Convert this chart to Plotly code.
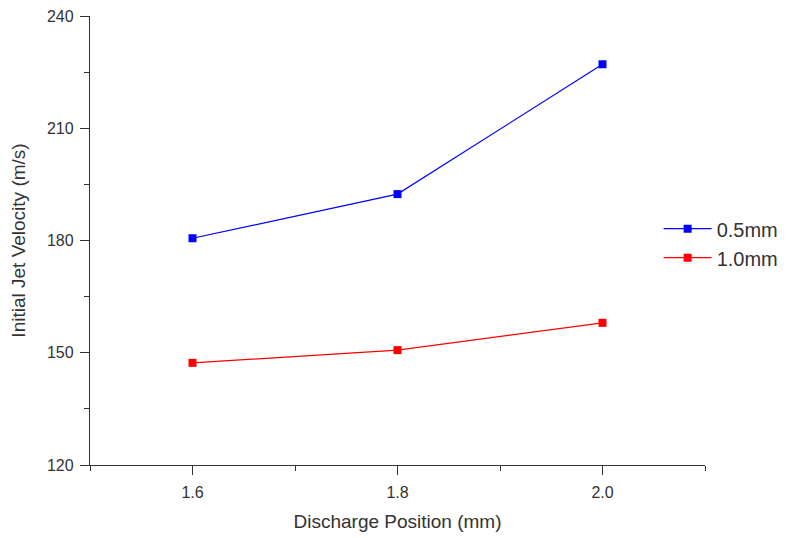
import plotly.graph_objects as go

positions = [1.6, 1.8, 2.0]
series_names = ["0.5mm", "1.0mm"]
vel_05 = [180.6, 192.4, 227.1]
vel_10 = [147.3, 150.7, 158.0]
colors = ["#0000FF", "#FF0000"]

FONT = "Liberation Sans, Arial, sans-serif"
TXT = "#333333"

fig = go.Figure()
for name, vals, c in zip(series_names, [vel_05, vel_10], colors):
    fig.add_trace(go.Scatter(
        x=positions, y=vals, name=name, mode="lines+markers",
        line=dict(color=c, width=1.2),
        marker=dict(symbol="square", size=8, color=c),
    ))

axis_common = dict(
    showgrid=False, zeroline=False, showline=True, linecolor="#333333", linewidth=1.3,
    ticks="outside", ticklen=9, tickwidth=1.2, tickcolor="#333333",
    tickfont=dict(family=FONT, size=16, color=TXT),
    minor=dict(ticks="outside", ticklen=5, tickwidth=1.2, tickcolor="#333333"),
    automargin=False, ticklabeloverflow="allow",
)

fig.update_xaxes(range=[1.5, 2.1], tickvals=[1.6, 1.8, 2.0], ticktext=["1.6", "1.8", "2.0"],
                 minor_dtick=0.1, minor_tick0=1.5, ticklabelstandoff=4,
                 title=dict(text="Discharge Position (mm)", standoff=14,
                            font=dict(family=FONT, size=19, color=TXT)),
                 **axis_common)
fig.update_yaxes(range=[120, 240], tickvals=[120, 150, 180, 210, 240],
                 minor_dtick=15, minor_tick0=120, ticklabelstandoff=3,
                 title=dict(text="Initial Jet Velocity (m/s)", standoff=16,
                            font=dict(family=FONT, size=19, color=TXT)),
                 **axis_common)

# page adds an 8px body margin, so the figure is sized to fit inside the window
fig.update_layout(
    width=783, height=530,
    margin=dict(l=82, r=86, t=8, b=73, autoexpand=False),
    plot_bgcolor="white", paper_bgcolor="white",
    legend=dict(x=0.9246, y=0.494, xanchor="left", yanchor="middle",
                bgcolor="rgba(0,0,0,0)", tracegroupgap=0, itemwidth=48,
                font=dict(family=FONT, size=20, color=TXT)),
)

fig.write_html("out.html")
